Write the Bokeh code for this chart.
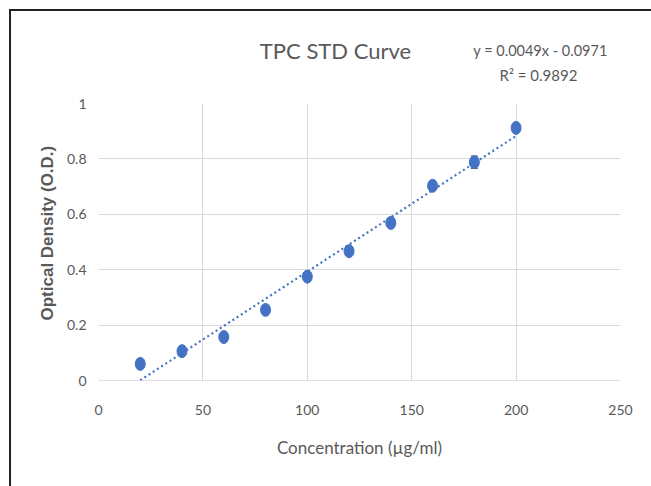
from bokeh.plotting import figure
from bokeh.layouts import column
from bokeh.models import ColumnDataSource, Whisker, TeeHead, CustomJSTickFormatter, FixedTicker, Title
from bokeh.core.properties import value
from bokeh.embed import file_html
from bokeh.resources import INLINE

# Data
concentration = [20, 40, 60, 80, 100, 120, 140, 160, 180, 200]
od = [0.060, 0.106, 0.157, 0.255, 0.375, 0.467, 0.569, 0.703, 0.788, 0.912]
od_err = [0.006, 0.010, 0.010, 0.010, 0.010, 0.010, 0.015, 0.010, 0.022, 0.012]
trend_slope = 0.0049
trend_intercept = -0.0971
trend_x = [20, 200]
x_ticks = [0, 50, 100, 150, 200, 250]
y_ticks = [0, 0.2, 0.4, 0.6, 0.8, 1.0]
title_text = "TPC STD Curve"
eq_text = "y = 0.0049x - 0.0971"
r2_text = "R² = 0.9892"
x_label = "Concentration (µg/ml)"
y_label = "Optical Density (O.D.)"

FONT = "Lato"
TXT = "#595959"
BLUE = "#4472C4"
W = 640
HEAD_H = 84

# ---- header strip with chart title and trendline equation ----
# (its frame is aligned with the main frame by the column layout: canvas x 87..609)
head = figure(width=W, height=HEAD_H, x_range=(87, 609), y_range=(0, HEAD_H),
              output_backend="svg", toolbar_location=None,
              min_border=0, min_border_left=87, min_border_right=31,
              min_border_top=0, min_border_bottom=0)
head.axis.visible = False
head.grid.visible = False
head.outline_line_color = None
head.text(x=[324], y=[45], text=[title_text], text_font=value(FONT), text_font_size="22px",
          text_color=TXT, text_align="center", text_baseline="middle")
head.text(x=[529], y=[45], text=[eq_text], text_font=value(FONT), text_font_size="14.5px",
          text_color=TXT, text_align="center", text_baseline="middle")
head.text(x=[527], y=[21], text=[r2_text], text_font=value(FONT), text_font_size="15px",
          text_color=TXT, text_align="center", text_baseline="middle")

# ---- main chart ----
p = figure(width=W, height=475 - HEAD_H, x_range=(0, 250), y_range=(0, 1),
           output_backend="svg", toolbar_location=None,
           min_border_left=87, min_border_right=31, min_border_top=8, min_border_bottom=106)
p.outline_line_color = None
p.background_fill_color = "white"
p.border_fill_color = "white"

p.xgrid.ticker = FixedTicker(ticks=x_ticks)
p.ygrid.ticker = FixedTicker(ticks=y_ticks)
p.xgrid.grid_line_color = "#d9d9d9"
p.ygrid.grid_line_color = "#d9d9d9"

for ax in (p.xaxis, p.yaxis):
    ax.axis_line_color = None
    ax.major_tick_line_color = None
    ax.minor_tick_line_color = None
    ax.major_label_text_font = FONT
    ax.major_label_text_color = TXT
    ax.major_label_text_font_size = "14px"
    ax.axis_label_text_font_style = "normal"
p.xaxis.ticker = FixedTicker(ticks=x_ticks)
p.yaxis.ticker = FixedTicker(ticks=y_ticks)
p.yaxis.formatter = CustomJSTickFormatter(code="return String(Math.round(tick*10)/10);")
p.xaxis.major_label_standoff = 18
p.yaxis.major_label_standoff = 6
p.xaxis.axis_label = x_label
p.xaxis.axis_label_text_font = FONT
p.xaxis.axis_label_text_color = TXT
p.xaxis.axis_label_text_font_size = "17px"
p.xaxis.axis_label_standoff = 19

p.add_layout(Title(text=y_label, align="left", offset=60, standoff=14,
                   text_font="Liberation Sans", text_font_style="bold",
                   text_font_size="17px", text_color=TXT), "left")

p.segment(x0=[0], y0=[0], x1=[250], y1=[0], line_color="#bfbfbf", line_width=1)

trend_y = [trend_slope * x + trend_intercept for x in trend_x]
p.line(trend_x, trend_y, line_color=BLUE, line_width=2.2, line_dash="2 3")

src = ColumnDataSource(dict(x=concentration, y=od,
                            lo=[v - e for v, e in zip(od, od_err)],
                            hi=[v + e for v, e in zip(od, od_err)]))
w = Whisker(source=src, base="x", upper="hi", lower="lo", line_color="#595959", line_width=1.2,
            upper_head=TeeHead(size=7, line_color="#595959", line_width=1.2),
            lower_head=TeeHead(size=7, line_color="#595959", line_width=1.2))
p.add_layout(w)
p.ellipse(x="x", y="y", width=10, height=13, width_units="screen", height_units="screen",
          source=src, fill_color=BLUE, line_color=BLUE)

layout = column(head, p, spacing=0, margin=(9, 0, 0, 9),
                styles={"border-top": "2px solid #222", "border-left": "2px solid #222"})

open("out.html", "w").write(file_html(layout, INLINE))
